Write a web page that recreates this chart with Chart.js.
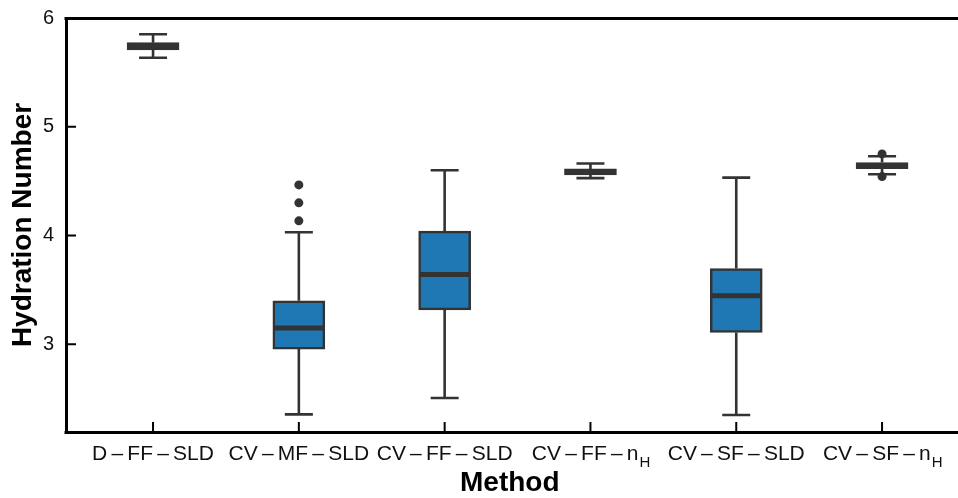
<!DOCTYPE html>
<html>
<head>
<meta charset="utf-8">
<script src="https://cdn.jsdelivr.net/npm/chart.js@4.4.1/dist/chart.umd.min.js"></script>
<style>
  html, body { margin: 0; padding: 0; background: #fff; }
  #wrap { width: 958px; height: 498px; }
</style>
</head>
<body>
<div id="wrap"><canvas id="myChart" width="958" height="498"></canvas></div>
<script>
// box plot values
const methods = ['D\u2009\u2013\u2009FF\u2009\u2013\u2009SLD', 'CV\u2009\u2013\u2009MF\u2009\u2013\u2009SLD', 'CV\u2009\u2013\u2009FF\u2009\u2013\u2009SLD', 'CV\u2009\u2013\u2009FF\u2009\u2013\u2009n', 'CV\u2009\u2013\u2009SF\u2009\u2013\u2009SLD', 'CV\u2009\u2013\u2009SF\u2009\u2013\u2009n'];
const subs = ['', '', '', 'H', '', 'H'];
const q1 = [5.706, 2.955, 3.316, 4.557, 3.108, 4.615];
const q3 = [5.773, 3.399, 4.040, 4.612, 3.696, 4.670];
const medians = [5.743, 3.148, 3.641, 4.585, 3.445, 4.643];
const whiskLo = [5.635, 2.354, 2.505, 4.527, 2.348, 4.563];
const whiskHi = [5.850, 4.030, 4.600, 4.661, 4.532, 4.729];
const outliers = [[], [4.134, 4.300, 4.465], [], [], [], [4.541, 4.750]];
const yTicks = [3, 4, 5, 6];

const dark = '#333333';
const xFont = { family: "'Liberation Sans', Arial, sans-serif", size: 21 };

var boxData = methods.map(function(m, i){ return { x: i, y: [q1[i], q3[i]] }; });
var outData = [];
outliers.forEach(function(list, i){
  list.forEach(function(v){ outData.push({ x: i, y: v }); });
});

function align3(p) { return Math.round(p - 1.5) + 1.5; }

const boxExtras = {
  id: 'boxExtras',
  beforeDatasetsDraw(chart) {
    const ctx = chart.ctx, xs = chart.scales.x, ys = chart.scales.y;
    ctx.save();
    ctx.strokeStyle = dark;
    ctx.lineWidth = 2.6;
    for (let i = 0; i < methods.length; i++) {
      const x = xs.getPixelForValue(i);
      ctx.beginPath();
      ctx.moveTo(x, ys.getPixelForValue(q3[i]));
      ctx.lineTo(x, ys.getPixelForValue(whiskHi[i]));
      ctx.moveTo(x, ys.getPixelForValue(q1[i]));
      ctx.lineTo(x, ys.getPixelForValue(whiskLo[i]));
      ctx.moveTo(x - 14, ys.getPixelForValue(whiskHi[i]));
      ctx.lineTo(x + 14, ys.getPixelForValue(whiskHi[i]));
      ctx.moveTo(x - 14, ys.getPixelForValue(whiskLo[i]));
      ctx.lineTo(x + 14, ys.getPixelForValue(whiskLo[i]));
      ctx.stroke();
    }
    ctx.restore();
  },
  afterDatasetsDraw(chart) {
    const ctx = chart.ctx, xs = chart.scales.x, ys = chart.scales.y;
    ctx.save();
    ctx.strokeStyle = dark;
    ctx.lineWidth = 5;
    for (let i = 0; i < methods.length; i++) {
      const x = xs.getPixelForValue(i);
      const y = ys.getPixelForValue(medians[i]);
      ctx.beginPath();
      ctx.moveTo(x - 25, y);
      ctx.lineTo(x + 25, y);
      ctx.stroke();
    }
    ctx.restore();
  },
  afterDraw(chart) {
    const ctx = chart.ctx, xs = chart.scales.x, ys = chart.scales.y;
    const a = chart.chartArea;
    ctx.save();
    // top frame line, and the bottom axis run on to the edge
    ctx.strokeStyle = '#000';
    ctx.lineWidth = 3;
    ctx.lineCap = 'butt';
    ctx.beginPath();
    ctx.moveTo(a.left - 1.5, align3(a.top));
    ctx.lineTo(chart.width, align3(a.top));
    ctx.moveTo(a.left - 1.5, align3(xs.top));
    ctx.lineTo(chart.width, align3(xs.top));
    ctx.stroke();
    // inward ticks
    ctx.lineWidth = 2;
    ctx.beginPath();
    yTicks.forEach(function(v){
      const y = ys.getPixelForValue(v);
      ctx.moveTo(a.left, y);
      ctx.lineTo(a.left + 10, y);
    });
    for (let i = 0; i < methods.length; i++) {
      const x = xs.getPixelForValue(i);
      ctx.moveTo(x, a.bottom);
      ctx.lineTo(x, a.bottom - 10);
    }
    ctx.stroke();
    // subscripts on the tick labels
    ctx.fillStyle = '#111';
    ctx.textBaseline = 'alphabetic';
    ctx.textAlign = 'left';
    for (let i = 0; i < methods.length; i++) {
      if (!subs[i]) continue;
      ctx.font = xFont.size + 'px ' + xFont.family;
      const full = ctx.measureText(methods[i] + '\u2002').width;
      const main = ctx.measureText(methods[i]).width;
      const x0 = xs.getPixelForValue(i) - full / 2 + main + 1;
      ctx.font = Math.round(xFont.size * 0.72) + 'px ' + xFont.family;
      ctx.fillText(subs[i], x0, a.bottom + 35);
    }
    ctx.restore();
  }
};

new Chart('myChart', {
  type: 'bar',
  data: {
    datasets: [
      {
        type: 'bar',
        data: boxData,
        backgroundColor: '#1f77b4',
        borderColor: dark,
        borderWidth: 2.5,
        borderSkipped: false,
        barThickness: 52
      },
      {
        type: 'scatter',
        data: outData,
        pointRadius: 4.5,
        pointBackgroundColor: dark,
        pointBorderWidth: 0
      }
    ]
  },
  plugins: [boxExtras],
  options: {
    responsive: false,
    animation: false,
    layout: { padding: { top: 18, right: 0, left: 0, bottom: 0 } },
    plugins: { legend: { display: false }, tooltip: { enabled: false } },
    scales: {
      x: {
        type: 'linear',
        offset: false,
        min: -0.597,
        max: 5.49,
        grid: { display: false, drawTicks: false, offset: false },
        border: { display: true, color: '#000', width: 3 },
        afterBuildTicks: function(s){ s.ticks = methods.map(function(m, i){ return { value: i }; }); },
        afterFit: function(s){ s.height = 66; s.paddingRight = 0; s.paddingLeft = 0; },
        ticks: {
          padding: 10,
          color: '#111',
          font: xFont,
          maxRotation: 0,
          autoSkip: false,
          callback: function(v){ return subs[v] ? methods[v] + '\u2002' : methods[v]; }
        },
        title: {
          display: true,
          text: 'Method',
          color: '#000',
          font: { family: "'Liberation Sans', Arial, sans-serif", size: 28, weight: 'bold', lineHeight: 1 },
          padding: { top: 0, bottom: 1 }
        }
      },
      y: {
        min: 2.192,
        max: 6,
        grid: { display: false, drawTicks: false },
        border: { display: true, color: '#000', width: 3 },
        afterBuildTicks: function(s){ s.ticks = yTicks.map(function(v){ return { value: v }; }); },
        afterFit: function(s){ s.width = 66; s.paddingTop = 0; s.paddingBottom = 0; },
        ticks: {
          padding: 12,
          color: '#111',
          font: { family: "'Liberation Sans', Arial, sans-serif", size: 20 }
        },
        title: {
          display: true,
          text: 'Hydration Number',
          color: '#000',
          font: { family: "'Liberation Sans', Arial, sans-serif", size: 28, weight: 'bold', lineHeight: 1 },
          padding: { top: 9, bottom: 0 }
        }
      }
    }
  }
});
</script>
</body>
</html>
